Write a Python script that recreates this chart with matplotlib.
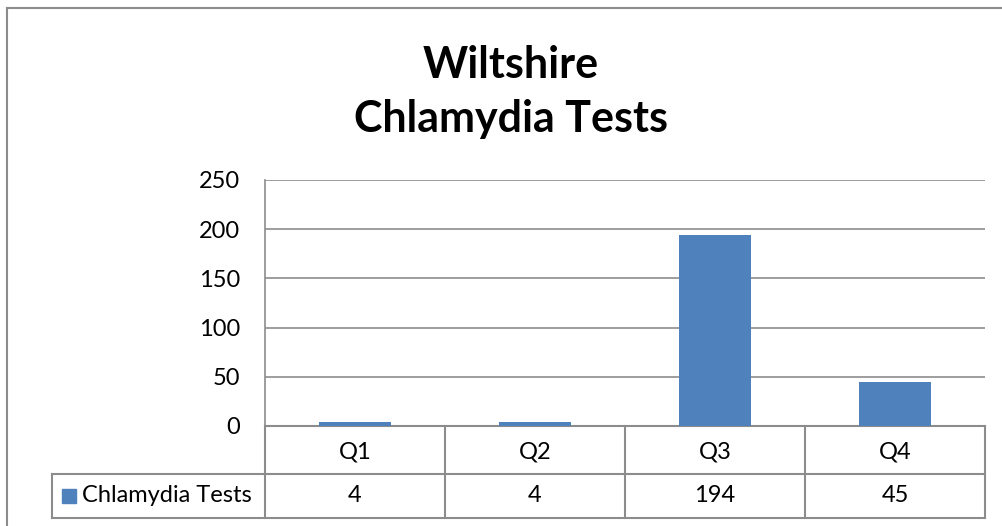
import matplotlib
matplotlib.use('Agg')
import matplotlib.pyplot as plt
from matplotlib.lines import Line2D

# Données du graphique
categories = ['Q1', 'Q2', 'Q3', 'Q4']
tests = [4, 4, 194, 45]
series_name = 'Chlamydia Tests'
title = 'Wiltshire\nChlamydia Tests'
y_ticks = [0, 50, 100, 150, 200, 250]

plt.rcParams['font.family'] = ['Lato', 'DejaVu Sans']
grey = '#8c8c8c'
blue = '#4f81bd'
fs = 17

fig = plt.figure(figsize=(10.02, 5.26), dpi=100)
ax = fig.add_axes([265 / 1002, 1 - 426 / 526, 720 / 1002, 246 / 526])

# Barres
xs = [i + 0.5 for i in range(len(categories))]
ax.bar(xs, tests, width=0.4, color=blue, zorder=3)

ax.set_xlim(0, len(categories))
ax.set_ylim(0, 250)
ax.set_yticks(y_ticks)
ax.set_yticklabels([str(v) for v in y_ticks], fontsize=fs)
ax.tick_params(axis='y', length=0, pad=18)
ax.set_xticks([])
ax.yaxis.grid(True, color=grey, linewidth=1.2)
ax.set_axisbelow(True)
for side in ['top', 'right', 'bottom']:
    ax.spines[side].set_visible(False)
ax.spines['left'].set_color(grey)
ax.spines['left'].set_linewidth(1.2)

# Tableau de données sous l'axe
tr = ax.get_xaxis_transform()
r1 = -48 / 246
r2 = -92 / 246
leg_left = (52 - 265) / 180
n = len(categories)
kw = dict(transform=tr, clip_on=False, color=grey, linewidth=1.5)
ax.plot([0, n], [0, 0], **kw)
ax.plot([leg_left, n], [r1, r1], **kw)
ax.plot([leg_left, n], [r2, r2], **kw)
ax.plot([leg_left, leg_left], [r1, r2], **kw)
for i in range(n + 1):
    ax.plot([i, i], [0, r2], **kw)
for i, (c, v) in enumerate(zip(categories, tests)):
    ax.text(i + 0.5, r1 / 2 - 0.008, c, transform=tr, ha='center', va='center', fontsize=fs)
    ax.text(i + 0.5, (r1 + r2) / 2, str(v), transform=tr, ha='center', va='center', fontsize=fs)
ax.add_patch(plt.Rectangle((leg_left + 10 / 180, (r1 + r2) / 2 - 7 / 246), 14 / 180, 14 / 246,
                           transform=tr, clip_on=False, color=blue))
ax.text(leg_left + 30 / 180, (r1 + r2) / 2, series_name, transform=tr,
        ha='left', va='center', fontsize=fs)

# Titre
fig.text(511 / 1002, 1 - 92 / 526, title, ha='center', va='center',
         fontsize=31, fontweight='bold', linespacing=1.45)

# Bordure extérieure
fig.add_artist(Line2D([7 / 1002, 7 / 1002], [0, 1 - 8 / 526], color=grey, linewidth=1.5))
fig.add_artist(Line2D([7 / 1002, 1], [1 - 8 / 526, 1 - 8 / 526], color=grey, linewidth=1.5))

fig.savefig('out.png', dpi=100)
